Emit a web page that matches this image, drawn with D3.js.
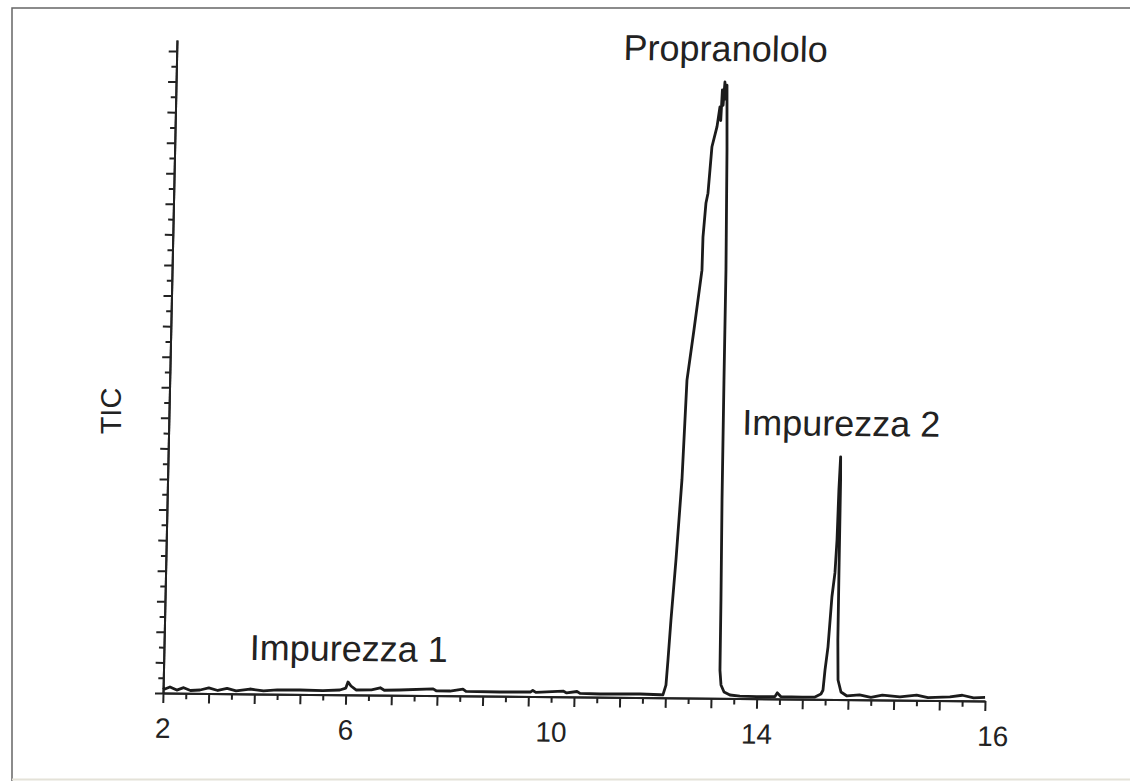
<!DOCTYPE html>
<html lang="it">
<head>
  <meta charset="UTF-8">
  <title>TIC propranololo</title>
  <script src="https://cdn.jsdelivr.net/npm/d3@7"></script>
  <style type="text/css">
    body { margin: 0; background: white; }
    svg { display: block; }
    text { font-family: "Liberation Sans", Arial, sans-serif; fill: #222; }
    .axis path, .axis line { stroke: #222; stroke-width: 2px; }
    .axis text { font-size: 28px; font-family: "Liberation Sans", Arial, sans-serif; fill: #222; }
    .trace { fill: none; stroke: #1b1b1b; stroke-width: 2.8px; stroke-linejoin: round; }
  </style>
</head>
<body>
<svg id="chart" width="1130" height="781"></svg>
<script>

  // tick labels of the x axis and the minor tick (0..36) each one sits on
  const xLabels = [2, 6, 10, 14, 16];
  const xLabelTick = [0, 8, 17, 26, 36];

  // TIC trace: time (min) and intensity (% of main peak)
  const traceTime = [
    2.00, 2.04, 2.15, 2.30, 2.45, 2.60, 2.81, 3.00, 3.20, 3.40, 3.60, 3.90, 4.20, 4.50, 5.00, 5.50, 5.87,
    6.00, 6.04, 6.10, 6.20, 6.50, 6.67, 6.75, 7.05, 7.70, 7.76, 8.03, 8.28, 8.34, 9.00, 9.60, 9.64, 9.70,
    10.23, 10.30, 10.50, 10.56, 10.95, 11.73, 12.12,
    12.174, 12.229, 12.258, 12.299, 12.372, 12.455, 12.511, 12.626, 12.757, 12.763, 12.807, 12.842,
    12.871, 12.900, 12.990, 13.039, 13.06, 13.08, 13.10, 13.126, 13.14, 13.167, 13.194, 13.224, 13.231,
    13.243, 13.264, 13.274, 13.30, 13.362, 13.478,
    13.67, 14.00, 14.16, 14.18, 14.21, 14.40, 14.510, 14.562, 14.579, 14.593, 14.615, 14.640, 14.662,
    14.674, 14.681, 14.690, 14.694, 14.697, 14.700, 14.709, 14.737, 14.790,
    14.90, 15.00, 15.10, 15.254, 15.40, 15.50, 15.692, 15.80, 15.90, 16.00
  ];
  const traceTIC = [
    0.9, 0.65, 1.0, 0.5, 0.9, 0.45, 0.55, 0.9, 0.5, 0.85, 0.45, 0.79, 0.5, 0.7, 0.71, 0.65, 0.77,
    1.1, 2.1, 1.44, 0.8, 0.85, 1.2, 0.8, 0.87, 1.1, 0.8, 0.78, 1.1, 0.75, 0.7, 0.75, 1.0, 0.7,
    0.95, 0.65, 0.9, 0.6, 0.53, 0.59, 0.5,
    0.47, 2.1, 6.2, 12.7, 22.6, 35.7, 52.0, 60.2, 70.0, 75.4, 81.0, 82.6,
    86.4, 90.2, 93.5, 96.7, 94.5, 99.5, 97.0, 100.8, 98.0, 100.3, 89.7, 70.1, 52.1,
    32.5, 16.1, 4.6, 2.2, 1.05, 0.57,
    0.4, 0.35, 0.4, 1.0, 0.4, 0.35, 0.38, 0.88, 1.5, 4.8, 8.6, 16.8, 20.7,
    26.1, 34.3, 39.7, 35.9, 20.7, 9.7, 3.2, 1.24, 0.6,
    0.8, 0.4, 0.8, 0.52, 0.85, 0.45, 0.6, 0.9, 0.5, 0.6
  ];

  // labelled peaks
  const peakNames = ["Impurezza 1", "Propranololo", "Impurezza 2"];
  const peakTimes = [6.04, 13.126, 14.690];
  const peakTIC = [2.1, 100.8, 39.7];

  const svg = d3.select('#chart');
  const W = 822, H = 653;

  // scanned figure: axes are slightly sheared, keep that with one matrix
  const plot = svg.append('g')
    .attr('transform', 'matrix(1,0.0097,-0.0214,1,163,693)');

  const xTick = d3.scaleLinear().domain([0, 36]).range([0, W]);
  const x = d3.scaleLinear().domain(xLabels).range(xLabelTick.map(xTick));
  const y = d3.scaleLinear().domain([0, 106.8]).range([0, -H]);

  // frame of the figure
  svg.append('path').attr('d', 'M1130,8H12V781')
    .attr('fill', 'none').attr('stroke', '#666').attr('stroke-width', 1.5);
  svg.append('line').attr('x1', 12).attr('x2', 1130).attr('y1', 779.5).attr('y2', 779.5)
    .attr('stroke', '#e4e2d8').attr('stroke-width', 2);

  // x axis: short ticks, long ticks, then the labels on their own
  const ticks = d3.range(37);
  plot.append('g').attr('class', 'axis')
    .call(d3.axisBottom(xTick).tickValues(ticks.filter(i => i % 2)).tickSize(6).tickSizeOuter(0).tickFormat(''));
  plot.append('g').attr('class', 'axis')
    .call(d3.axisBottom(xTick).tickValues(ticks.filter(i => i % 2 === 0)).tickSize(10).tickSizeOuter(0).tickFormat(''));
  const xg = plot.append('g').attr('class', 'axis')
    .call(d3.axisBottom(xTick).tickValues(xLabelTick).tickSize(0).tickPadding(25)
      .tickFormat(i => xLabels[xLabelTick.indexOf(i)]));
  xg.select('.domain').remove();
  xg.selectAll('text').filter(i => i === 36).attr('dx', 8);

  // y axis: ticks only
  const yTicks = d3.range(0, 105.01, 2.5);
  plot.append('g').attr('class', 'axis')
    .call(d3.axisLeft(y).tickValues(yTicks.filter((d, i) => i % 2)).tickSize(5).tickSizeOuter(0).tickFormat(''));
  plot.append('g').attr('class', 'axis')
    .call(d3.axisLeft(y).tickValues(yTicks.filter((d, i) => i % 2 === 0)).tickSize(8).tickSizeOuter(0).tickFormat(''));
  plot.selectAll('.axis .domain').attr('stroke-width', 2.2);

  // the trace
  const pts = traceTime.map((t, i) => [t, traceTIC[i]]);
  plot.append('path').datum(pts).attr('class', 'trace')
    .attr('d', d3.line().x(d => x(d[0])).y(d => y(d[1])));

  // peak names above each peak
  plot.selectAll('.peak').data(peakNames).enter().append('text')
    .attr('class', 'peak')
    .attr('x', (d, i) => x(peakTimes[i]))
    .attr('y', (d, i) => y(peakTIC[i]) - 21)
    .attr('text-anchor', 'middle')
    .style('font-size', '36px')
    .text(d => d);

  svg.append('text')
    .attr('transform', 'translate(121,411) rotate(-90)')
    .attr('text-anchor', 'middle')
    .style('font-size', '29px')
    .text('TIC');

</script>
</body>
</html>
